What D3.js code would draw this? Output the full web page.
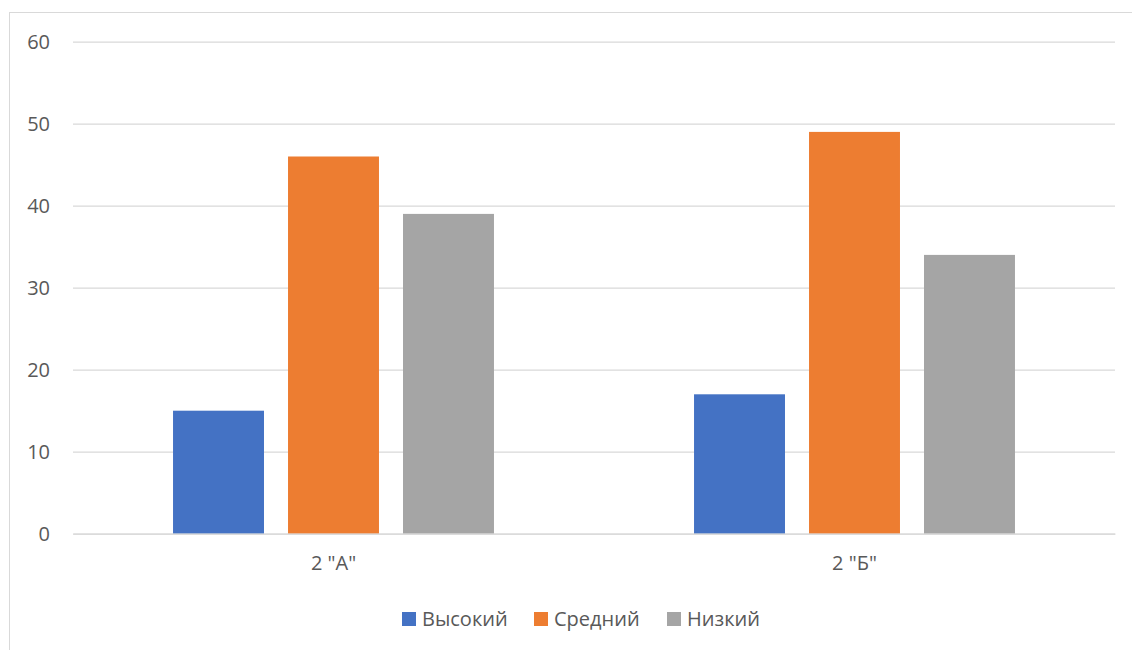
<!DOCTYPE html>
<html><head><meta charset="utf-8">
<script src="https://cdn.jsdelivr.net/npm/d3@7"></script>
<style>
html,body{margin:0;padding:0;background:#fff;}
text{font-family:"Open Sans","Noto Sans",sans-serif;fill:#595959;}
</style></head>
<body><svg id="c" width="1132" height="650"></svg>
<script>
const categories = ['2 "А"', '2 "Б"'];
const seriesNames = ["Высокий", "Средний", "Низкий"];
const seriesColors = ["#4472c4", "#ed7d31", "#a5a5a5"];
const valuesHigh = [15, 17];
const valuesMid = [46, 49];
const valuesLow = [39, 34];
const yTicks = [0, 10, 20, 30, 40, 50, 60];

const seriesValues = [valuesHigh, valuesMid, valuesLow];
const svg = d3.select("#c");
const fontSize = 20;

// frame
svg.append("rect").attr("x", 9.5).attr("y", 12.5).attr("width", 1140).attr("height", 660)
  .attr("fill", "none").attr("stroke", "#d9d9d9").attr("stroke-width", 1);

const pLeft = 73, pRight = 1115, pTop = 41.7, pBottom = 533.7;
const y = d3.scaleLinear().domain([0, 60]).range([pBottom, pTop]);
const x0 = d3.scaleBand().domain(categories).range([pLeft, pRight]).paddingInner(0).paddingOuter(0);
const bw = x0.bandwidth();
const x1 = d3.scaleBand().domain(seriesNames).range([bw * 0.192, bw * 0.808]).paddingInner(0.209).paddingOuter(0);

// gridlines
const yAxis = d3.axisLeft(y).tickValues(yTicks).tickSize(-(pRight - pLeft)).tickPadding(23).tickFormat(d3.format("d"));
const ga = svg.append("g").attr("transform", `translate(${pLeft},0)`).call(yAxis);
ga.select(".domain").remove();
ga.selectAll(".tick line").attr("stroke", "#d9d9d9").attr("stroke-width", 1.3);
ga.selectAll(".tick text").style("font-size", fontSize + "px").attr("fill", "#595959")
  .style("font-family", '"Open Sans","Noto Sans",sans-serif');

// bars
const groups = svg.append("g").selectAll("g").data(categories).join("g")
  .attr("transform", d => `translate(${x0(d)},0)`);
groups.selectAll("rect").data((d, ci) => seriesNames.map((s, si) => ({ s, si, v: seriesValues[si][ci] })))
  .join("rect")
  .attr("x", d => x1(d.s)).attr("width", x1.bandwidth())
  .attr("y", d => y(d.v)).attr("height", d => y(0) - y(d.v))
  .attr("fill", d => seriesColors[d.si]);

// x axis
const xAxis = d3.axisBottom(x0).tickSize(0).tickPadding(22);
const gx = svg.append("g").attr("transform", `translate(0,${pBottom})`).call(xAxis);
gx.select(".domain").attr("stroke", "#d9d9d9").attr("stroke-width", 1.3);
gx.selectAll(".tick text").style("font-size", fontSize + "px").attr("fill", "#595959")
  .style("font-family", '"Open Sans","Noto Sans",sans-serif');

// legend
const legendX = [402, 534, 667];
const lg = svg.append("g").selectAll("g").data(seriesNames).join("g")
  .attr("transform", (d, i) => `translate(${legendX[i]},612)`);
lg.append("rect").attr("width", 14).attr("height", 14).attr("fill", (d, i) => seriesColors[i]);
lg.append("text").attr("x", 20).attr("y", 14).style("font-size", fontSize + "px").text(d => d);
</script></body></html>
